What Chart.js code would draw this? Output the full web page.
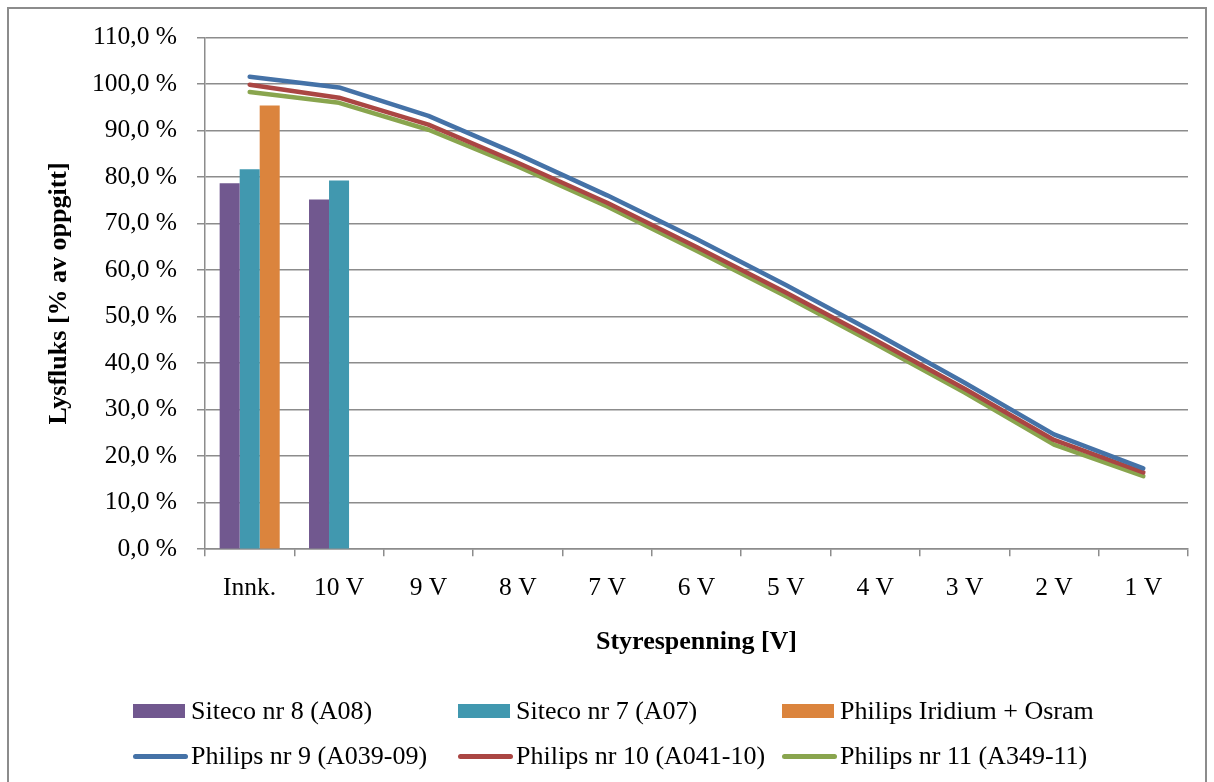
<!DOCTYPE html>
<html>
<head>
<meta charset="utf-8">
<script src="https://cdn.jsdelivr.net/npm/chart.js@4.4.0/dist/chart.umd.min.js"></script>
<style>
html,body{margin:0;padding:0;background:#fff;}
#wrap{position:relative;width:1214px;height:782px;overflow:hidden;background:#fff;}
#frame{position:absolute;left:7px;top:7px;width:1200px;height:820px;border:2px solid #8c8c8c;box-sizing:border-box;}
#c{position:absolute;left:0;top:0;}
#legend{position:absolute;left:0;top:0;width:1214px;height:782px;pointer-events:none;font-family:"Liberation Serif","Times New Roman",serif;font-size:26px;color:#000;}
.item{position:absolute;display:flex;align-items:center;white-space:nowrap;height:30px;line-height:30px;}
.sym{flex:none;margin-right:5px;}
</style>
</head>
<body>
<div id="wrap">
  <div id="frame"></div>
  <canvas id="c" width="1214" height="782"></canvas>
  <div id="legend"></div>
</div>
<script>
// ---- data ----
const categories = ['Innk.', '10 V', '9 V', '8 V', '7 V', '6 V', '5 V', '4 V', '3 V', '2 V', '1 V'];
const siteco8   = [78.7, 75.2, null, null, null, null, null, null, null, null, null];
const siteco7   = [81.7, 79.3, null, null, null, null, null, null, null, null, null];
const iridium   = [95.4, null, null, null, null, null, null, null, null, null, null];
const philips9  = [101.6, 99.3, 93.2, 84.9, 76.1, 66.7, 56.8, 46.5, 35.8, 24.7, 17.4];
const philips10 = [99.9, 97.1, 91.3, 83.1, 74.5, 65.0, 55.2, 45.0, 34.5, 23.5, 16.5];
const philips11 = [98.3, 96.0, 90.2, 82.3, 73.7, 64.2, 54.4, 44.2, 33.7, 22.5, 15.7];
const yMin = 0, yMax = 110, yStep = 10;
const seriesNames = ['Siteco nr 8 (A08)', 'Siteco nr 7 (A07)', 'Philips Iridium + Osram',
                     'Philips nr 9 (A039-09)', 'Philips nr 10 (A041-10)', 'Philips nr 11 (A349-11)'];
const xTitle = 'Styrespenning [V]';
const yTitle = 'Lysfluks [% av oppgitt]';

// ---- styles ----
const FONT = '"Liberation Serif", "Times New Roman", serif';
const GRID = '#8c8c8c';
const colors = ['#71588F', '#4198AF', '#DB843D', '#4572A7', '#AA4643', '#89A54E'];

function barDs(label, data, color) {
  return { type: 'bar', label, data, backgroundColor: color, borderWidth: 0,
           categoryPercentage: 0.672, barPercentage: 1.0, order: 1 };
}
function lineDs(label, data, color) {
  return { type: 'line', label, data, borderColor: color, backgroundColor: color,
           borderWidth: 4.5, pointRadius: 0, pointHoverRadius: 0, fill: false, tension: 0,
           borderCapStyle: 'round', borderJoinStyle: 'round', order: 0 };
}

const chart = new Chart(document.getElementById('c'), {
  type: 'bar',
  data: {
    labels: categories,
    datasets: [
      barDs(seriesNames[0], siteco8, colors[0]),
      barDs(seriesNames[1], siteco7, colors[1]),
      barDs(seriesNames[2], iridium, colors[2]),
      lineDs(seriesNames[3], philips9, colors[3]),
      lineDs(seriesNames[4], philips10, colors[4]),
      lineDs(seriesNames[5], philips11, colors[5])
    ]
  },
  options: {
    responsive: false,
    devicePixelRatio: 1,
    animation: false,
    layout: { padding: { left: 0, top: 37.7, right: 26, bottom: 124.4 } },
    plugins: { legend: { display: false }, tooltip: { enabled: false } },
    scales: {
      x: {
        offset: true,
        grid: { display: true, drawOnChartArea: false, drawTicks: true, tickLength: 7,
                color: GRID, lineWidth: 1.5, offset: true },
        border: { display: true, color: GRID, width: 1.5 },
        ticks: { font: { family: FONT, size: 25.5 }, color: '#000', padding: 17,
                 maxRotation: 0, autoSkip: false },
        title: { display: true, text: xTitle, color: '#000',
                 font: { family: FONT, size: 26, weight: 'bold' }, padding: { top: 0, bottom: 0 } },
        afterFit(s) { s.height = 108.4; }
      },
      y: {
        min: yMin, max: yMax,
        ticks: { stepSize: yStep, font: { family: FONT, size: 25.5 }, color: '#000', padding: 20,
                 callback: v => v.toFixed(1).replace('.', ',') + ' %' },
        grid: { color: GRID, lineWidth: 1.5, tickLength: 8, drawTicks: true },
        border: { display: true, color: GRID, width: 1.5 },
        title: { display: true, text: yTitle, color: '#000',
                 font: { family: FONT, size: 26, weight: 'bold' }, padding: { top: 44, bottom: 0 } },
        afterFit(s) { s.width = 205; }
      }
    }
  }
});

// ---- HTML legend built from datasets ----
const legend = document.getElementById('legend');
const colX = [133, 458, 782];
const rowY = [711, 756];
chart.data.datasets.forEach((ds, i) => {
  const item = document.createElement('div');
  item.className = 'item';
  item.style.left = colX[i % 3] + 'px';
  item.style.top = (rowY[Math.floor(i / 3)] - 15) + 'px';
  const sym = document.createElement('span');
  sym.className = 'sym';
  if (ds.type === 'bar') {
    sym.style.cssText = 'display:inline-block;width:52px;height:14px;background:' + ds.backgroundColor + ';margin-right:6px;';
  } else {
    sym.style.cssText = 'display:inline-block;width:55px;height:5px;border-radius:3px;background:' + ds.borderColor + ';margin-right:3px;';
  }
  const txt = document.createElement('span');
  txt.textContent = ds.label;
  item.appendChild(sym);
  item.appendChild(txt);
  legend.appendChild(item);
});
</script>
</body>
</html>
